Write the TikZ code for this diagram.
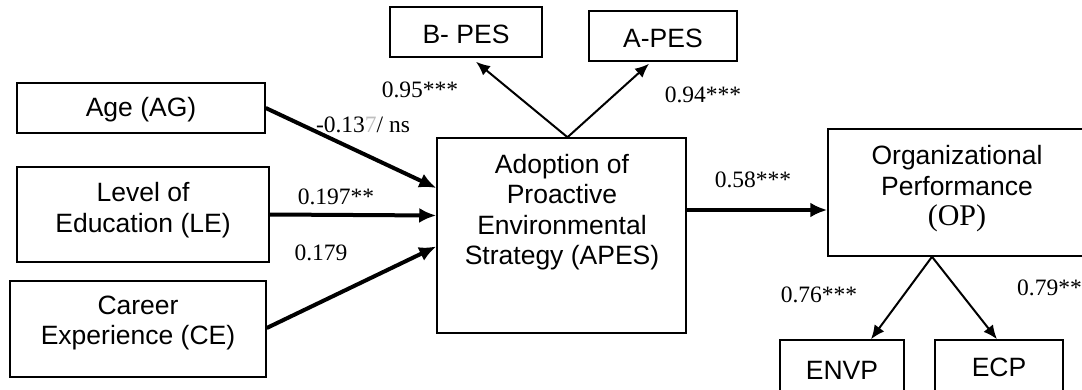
\documentclass[tikz,border=0pt]{standalone}
\usepackage{fontspec}
\setmainfont{Liberation Serif}
\setsansfont{Liberation Sans}
\usetikzlibrary{arrows.meta,fit}
\begin{document}
\begin{tikzpicture}[x=1pt,y=-1pt,
  boxn/.style={draw, line width=1.5pt, inner sep=0pt, rectangle},
  boxtext/.style={font=\sffamily\fontsize{26.5}{30.5}\selectfont, align=center, inner sep=0pt},
  lbl/.style={font=\rmfamily\fontsize{23.5}{26}\selectfont, inner sep=0pt},
  thickarr/.style={line width=4pt, -{Latex[length=17pt,width=15pt]}},
  thinarr/.style={line width=2pt, -{Latex[length=14pt,width=12pt]}}
]
\useasboundingbox (0,0) rectangle (1082,390);
% boxes
\node[boxn, fit={(390,7) (542,57)}] (bpes) {};
\node[boxn, fit={(589,11) (737,61)}] (apesb) {};
\node[boxn, fit={(17,83) (265,133)}] (age) {};
\node[boxn, fit={(17,167) (269,262)}] (le) {};
\node[boxn, fit={(10,281) (266,377)}] (ce) {};
\node[boxn, fit={(437,138) (686,333)}] (apes) {};
\node[boxn, fit={(828,129) (1084,256)}] (op) {};
\node[boxn, fit={(780,340) (904,396)}] (envp) {};
\node[boxn, fit={(935,340) (1063,396)}] (ecp) {};
% box texts
\node[boxtext] (bpest) at (466,34) {B- PES};
\node[boxtext] (apesbt) at (663,38) {A-PES};
\node[boxtext] (aget) at (141,110) {Age (AG)};
\node[boxtext] (let) at (143,210) {Level of\\Education (LE)};
\node[boxtext] (cet) at (138,323) {Career\\Experience (CE)};
\node[boxtext] (apest) at (562,212) {Adoption of\\Proactive\\Environmental\\Strategy (APES)};
\node[boxtext] (opt) at (957,189) {Organizational\\Performance\\{\rmfamily\fontsize{30}{34}\selectfont (OP)}};
\node[boxtext] (envpt) at (842,370) {ENVP};
\node[boxtext] (ecpt) at (999,367) {ECP};
% connectors
\draw[thickarr] (age.east) -- ([yshift=47.5pt]apes.west);
\draw[thickarr] (le.east) -- ([yshift=20pt]apes.west);
\draw[thickarr] ([yshift=1pt]ce.east) -- ([yshift=-11pt]apes.west);
\draw[thickarr] ([yshift=25.5pt]apes.east) -- ([yshift=25.5pt]apes.east -| op.west);
\draw[thinarr] ([xshift=6pt]apes.north) -- ([xshift=10pt,yshift=-4pt]bpes.south);
\draw[thinarr] ([xshift=6pt]apes.north) -- ([xshift=-14pt,yshift=-2pt]apesb.south);
\draw[thinarr] ([xshift=-24pt]op.south) -- ([xshift=29pt]envp.north);
\draw[thinarr] ([xshift=-24pt]op.south) -- ([xshift=-2pt]ecp.north);
% labels
\node[lbl] (l95) at (420,90) {0.95***};
\node[lbl] (l94) at (703,95) {0.94***};
\node[lbl] (l13) at (363,125) {-0.13{\color{black!25}7}/ ns};
\node[lbl] (l197) at (336,197) {0.197**};
\node[lbl] (l179) at (321,253) {0.179};
\node[lbl] (l58) at (753,180) {0.58***};
\node[lbl] (l76) at (819,295) {0.76***};
\node[lbl, anchor=west] (l79) at (1017,288) {0.79**};
\end{tikzpicture}
\end{document}
